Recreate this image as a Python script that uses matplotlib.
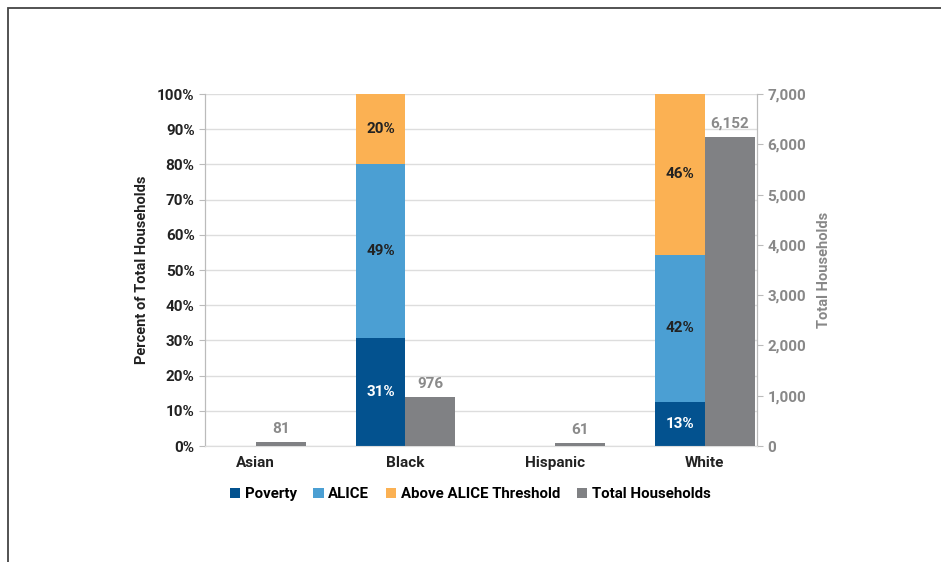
import numpy as np
import matplotlib.pyplot as plt
from matplotlib.patches import Rectangle

plt.rcParams['font.family'] = ['Roboto', 'DejaVu Sans']

# data
kelompok = ['Asian', 'Black', 'Hispanic', 'White']
poverty = [0, 30.7, 0, 12.5]
alice = [0, 49.5, 0, 41.8]
above = [0, 19.8, 0, 45.7]
label_pov = ['', '31%', '', '13%']
label_alice = ['', '49%', '', '42%']
label_above = ['', '20%', '', '46%']
total_hh = [81, 976, 61, 6152]

c_pov = '#03528F'
c_alice = '#4B9FD3'
c_above = '#FBB153'
c_total = '#808184'

fig = plt.figure(figsize=(9.41, 5.62), dpi=100)
ax = fig.add_axes([205/941, 1-446/562, 552/941, 352/562])
ax2 = ax.twinx()

x = np.arange(len(kelompok))
w = 1/3

# bar bertumpuk persen
ax.bar(x - w/2, poverty, w, color=c_pov, label='Poverty', zorder=3)
ax.bar(x - w/2, alice, w, bottom=poverty, color=c_alice, label='ALICE', zorder=3)
bawah = np.array(poverty) + np.array(alice)
ax.bar(x - w/2, above, w, bottom=bawah, color=c_above, label='Above ALICE Threshold', zorder=3)

for i in range(len(x)):
    if label_pov[i]:
        ax.text(x[i] - w/2, poverty[i]/2, label_pov[i], ha='center', va='center',
                color='white', fontsize=11, fontweight='bold', zorder=4)
        ax.text(x[i] - w/2, poverty[i] + alice[i]/2, label_alice[i], ha='center', va='center',
                color='#222222', fontsize=11, fontweight='bold', zorder=4)
        ax.text(x[i] - w/2, bawah[i] + above[i]/2, label_above[i], ha='center', va='center',
                color='#222222', fontsize=11, fontweight='bold', zorder=4)

# bar total rumah tangga (sumbu kanan)
ax2.bar(x + w/2, total_hh, w, color=c_total, label='Total Households', zorder=3)
for i in range(len(x)):
    ax2.text(x[i] + w/2, total_hh[i] + 120, f'{total_hh[i]:,}', ha='center', va='bottom',
             color='#8A8A8A', fontsize=11, fontweight='bold')

ax.set_xlim(-0.34, 3.35)
ax.set_ylim(0, 100)
ax2.set_ylim(0, 7000)
ax.set_yticks(np.arange(0, 101, 10))
ax.set_yticklabels([f'{v}%' for v in range(0, 101, 10)])
ax2.set_yticks(np.arange(0, 7001, 1000))
ax2.set_yticklabels([f'{v:,}' for v in range(0, 7001, 1000)])

ax.set_xticks(x)
ax.set_xticklabels(kelompok)
ax.tick_params(axis='x', length=0, pad=7, labelsize=11, labelcolor='#222222')
ax.tick_params(axis='y', length=4, color='#BBBBBB', labelsize=11, labelcolor='#222222')
ax2.tick_params(axis='y', length=4, color='#BBBBBB', labelsize=11, labelcolor='#888888')
for lbl in ax.get_xticklabels() + ax.get_yticklabels() + ax2.get_yticklabels():
    lbl.set_fontweight('bold')

ax.grid(axis='y', color='#DDDDDD', linewidth=1, zorder=0)
ax.set_axisbelow(True)
for a in (ax, ax2):
    a.spines['top'].set_visible(False)
    a.spines['left'].set_color('#BBBBBB')
    a.spines['right'].set_color('#BBBBBB')
    a.spines['bottom'].set_color('#DDDDDD')

ax.set_ylabel('Percent of Total Households', fontsize=10.5, fontweight='bold', color='#222222', labelpad=6)
ax2.set_ylabel('Total Households', fontsize=10.5, fontweight='bold', color='#888888', labelpad=8)

h1, l1 = ax.get_legend_handles_labels()
h2, l2 = ax2.get_legend_handles_labels()
fig.legend(h1 + h2, l1 + l2, loc='center', bbox_to_anchor=(470/941, 1-494/562), ncol=4,
           frameon=False, handlelength=0.7, handleheight=0.7, handletextpad=0.3,
           columnspacing=1.1, prop={'weight': 'bold', 'size': 10.8})

# bingkai
fig.patches.append(Rectangle((8/941, -0.1), 1.1, 1 - 8/562 + 0.1, transform=fig.transFigure,
                             fill=False, edgecolor='#444444', linewidth=1.3))

fig.savefig('out.png', dpi=100)
